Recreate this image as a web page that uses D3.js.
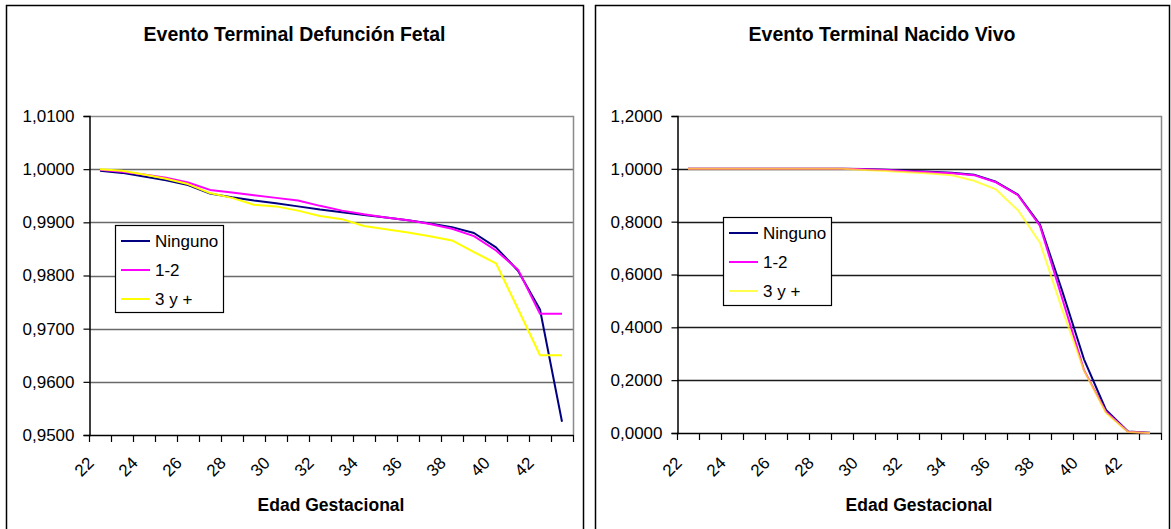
<!DOCTYPE html>
<html><head><meta charset="utf-8">
<script src="https://cdn.jsdelivr.net/npm/d3@7"></script>
<style>
body{margin:0;background:#fff}
svg{display:block}
text{font-family:"Liberation Sans",Arial,sans-serif;fill:#000}
</style>
</head><body>
<svg id="chart" width="1171" height="529"></svg>
<script>
// ---------- data ----------
const categories = [22,23,24,25,26,27,28,29,30,31,32,33,34,35,36,37,38,39,40,41,42,43];
const xTickLabels = [22,24,26,28,30,32,34,36,38,40,42];
const seriesNames = ["Ninguno","1-2","3 y +"];

const fetalTitle = "Evento Terminal Defunción Fetal";
const fetalYTicks = [0.95,0.96,0.97,0.98,0.99,1.00,1.01];
const fetalNinguno = [0.9997,0.9993,0.9986,0.9979,0.9970,0.9954,0.9947,0.9941,0.9936,0.9930,0.9924,0.9919,0.9914,0.9909,0.9904,0.9898,0.9891,0.9880,0.9853,0.9809,0.9736,0.9525];
const fetal12     = [0.9999,0.9995,0.9990,0.9984,0.9975,0.9961,0.9956,0.9951,0.9946,0.9941,0.9931,0.9922,0.9915,0.9909,0.9904,0.9897,0.9888,0.9874,0.9847,0.9811,0.9728,0.9728];
const fetal3mas   = [1.0000,0.9997,0.9990,0.9982,0.9972,0.9955,0.9946,0.9933,0.9930,0.9922,0.9912,0.9906,0.9893,0.9887,0.9881,0.9874,0.9866,0.9844,0.9823,0.9737,0.9650,0.9650];

const vivoTitle = "Evento Terminal Nacido Vivo";
const vivoYTicks = [0,0.2,0.4,0.6,0.8,1.0,1.2];
const vivoNinguno = [1,1,1,1,1,1,1,1,0.9995,0.997,0.993,0.989,0.985,0.978,0.951,0.902,0.789,0.540,0.279,0.087,0.006,0.001];
const vivo12      = [1,1,1,1,1,1,1,1,0.9985,0.996,0.991,0.987,0.983,0.976,0.949,0.900,0.784,0.512,0.238,0.080,0.005,0.000];
const vivo3mas    = [1,1,1,1,1,1,1,1,0.996,0.992,0.987,0.982,0.976,0.955,0.922,0.843,0.720,0.470,0.236,0.076,0.004,0.000];

const xAxisTitle = "Edad Gestacional";

// ---------- styles / layout ----------
const seriesColors = ["#000080","#FF00FF","#FFFF00"];
const locale = d3.formatLocale({decimal:",",thousands:".",grouping:[3],currency:["",""]});
const fmt = locale.format(".4f");

const svg = d3.select("#chart");

const panels = [
  {title:fetalTitle, data:[fetalNinguno,fetal12,fetal3mas], yDomain:[0.95,1.01], yTicks:fetalYTicks,
   box:[6,583], l:89, r:573, t:116, b:435, grid:"#6a6a6a",
   legend:{x:115,y:225,w:108,h:87}, yellowOpacity:1},
  {title:vivoTitle, data:[vivoNinguno,vivo12,vivo3mas], yDomain:[0,1.2], yTicks:vivoYTicks,
   box:[595,1169], l:677, r:1161, t:116, b:433, grid:"#1a1a1a",
   legend:{x:723,y:217,w:108,h:88}, yellowOpacity:0.7}
];

function drawPanel(p){
  const g = svg.append("g");
  // outer chart border
  g.append("rect")
    .attr("x",p.box[0]+0.5).attr("y",5.5)
    .attr("width",p.box[1]-p.box[0]).attr("height",600)
    .attr("fill","none").attr("stroke","#000").attr("stroke-width",1.5);

  const x = d3.scaleBand().domain(categories).range([p.l,p.r]).padding(0);
  const y = d3.scaleLinear().domain(p.yDomain).range([p.b,p.t]);

  // gridlines (excluding bottom axis and top border)
  g.append("g").selectAll("line")
    .data(p.yTicks.slice(1,-1)).join("line")
    .attr("x1",p.l).attr("x2",p.r)
    .attr("y1",d=>Math.round(y(d))+0.5).attr("y2",d=>Math.round(y(d))+0.5)
    .attr("stroke",p.grid).attr("stroke-width",1.5);

  // plot area border (top, right) gray
  g.append("path")
    .attr("d",`M${p.l},${Math.round(y(p.yDomain[1]))+0.5}H${p.r+0.5}V${p.b}`)
    .attr("fill","none").attr("stroke","#8a8a8a").attr("stroke-width",1.5);

  // y axis
  const yAxis = d3.axisLeft(y).tickValues(p.yTicks).tickSize(6).tickPadding(9).tickFormat(fmt);
  const ya = g.append("g").attr("transform",`translate(${p.l+0.5},0)`).call(yAxis);
  ya.select(".domain").attr("stroke","#000").attr("stroke-width",1.5);
  ya.selectAll(".tick line").attr("stroke","#000").attr("stroke-width",1.2);
  ya.selectAll(".tick text").attr("font-size",17).attr("font-family","Liberation Sans, Arial, sans-serif").attr("fill","#000");

  // x axis (labels at category centers, ticks between categories)
  const xAxis = d3.axisBottom(x).tickValues(xTickLabels).tickSize(0).tickFormat(d=>String(d));
  const xa = g.append("g").attr("transform",`translate(0,${p.b})`).call(xAxis);
  xa.select(".domain").remove();
  xa.selectAll(".tick text")
    .attr("font-size",17).attr("font-family","Liberation Sans, Arial, sans-serif").attr("fill","#000")
    .attr("x",0).attr("y",0).attr("dy",0)
    .attr("text-anchor","end")
    .attr("transform",`translate(-5,${464-p.b}) rotate(-45)`);
  g.append("line").attr("x1",p.l).attr("x2",p.r+0.5)
    .attr("y1",p.b+0.5).attr("y2",p.b+0.5).attr("stroke","#000").attr("stroke-width",1.5);
  const bounds = categories.map(c=>x(c)).concat([x(categories[categories.length-1])+x.bandwidth()]);
  g.append("g").selectAll("line").data(bounds).join("line")
    .attr("x1",d=>Math.round(d)+0.5).attr("x2",d=>Math.round(d)+0.5)
    .attr("y1",p.b).attr("y2",p.b+7).attr("stroke","#000").attr("stroke-width",1.2);

  // series lines
  const line = d3.line()
    .x((d,i)=>x(categories[i])+x.bandwidth()/2)
    .y(d=>y(d));
  p.data.forEach((s,k)=>{
    g.append("path").datum(s).attr("d",line)
      .attr("fill","none").attr("stroke",seriesColors[k])
      .attr("stroke-width",2)
      .attr("stroke-opacity",k===2?p.yellowOpacity:1)
      .attr("stroke-linejoin","round");
  });

  // titles
  g.append("text").attr("x",(p.box[0]+p.box[1])/2).attr("y",41)
    .attr("text-anchor","middle").attr("font-size",19.5).attr("font-weight","bold").text(p.title);
  g.append("text").attr("x",(p.l+p.r)/2).attr("y",511)
    .attr("text-anchor","middle").attr("font-size",17.5).attr("font-weight","bold").text(xAxisTitle);

  // legend
  const L = p.legend;
  const lg = g.append("g");
  lg.append("rect").attr("x",L.x+0.5).attr("y",L.y+0.5).attr("width",L.w).attr("height",L.h)
    .attr("fill","#fff").attr("stroke","#000").attr("stroke-width",1.2);
  seriesNames.forEach((n,k)=>{
    const cy = L.y + 16 + k*29;
    lg.append("line").attr("x1",L.x+6).attr("x2",L.x+35).attr("y1",cy).attr("y2",cy)
      .attr("stroke",seriesColors[k]).attr("stroke-width",2)
      .attr("stroke-opacity",k===2?p.yellowOpacity:1);
    lg.append("text").attr("x",L.x+40).attr("y",cy).attr("dy","0.36em")
      .attr("font-size",17).text(n);
  });
}

panels.forEach(drawPanel);
</script>
</body></html>
